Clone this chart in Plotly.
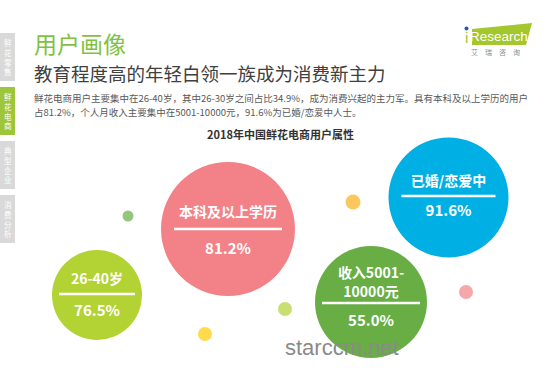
import plotly.graph_objects as go

# ---- data ----
categories = ["26-40岁", "本科及以上学历", "收入5001-<br>10000元", "已婚/恋爱中"]
values = [76.5, 81.2, 55.0, 91.6]
value_labels = ["76.5%", "81.2%", "55.0%", "91.6%"]

# ---- layout of bubbles (pixel coordinates on a 549x368 canvas) ----
bx = [97, 228, 371, 448.5]
by = [295, 229, 302, 197.5]
bd = [90, 134, 112, 120]
bcolors = ["#B3D234", "#F28287", "#68AE45", "#00B0E4"]
label_y = [280, 213, 284, 182]
line_y = [294, 229, 303, 196]
line_half = [38, 54, 49, 47]
value_y = [312, 250, 322, 212]

dot_x = [128, 353, 285, 205, 466]
dot_y = [216, 202, 309, 334, 292]
dot_d = [11, 15, 14, 14, 14]
dot_colors = ["#68AE45", "#FBB118", "#B3D234", "#FFCC00", "#F28287"]

sidebar_labels = ["鲜<br>花<br>零<br>售", "鲜<br>花<br>电<br>商", "典<br>型<br>企<br>业", "消<br>费<br>分<br>析"]
sidebar_top = [33, 87, 141, 195]
sidebar_colors = ["#D9D9D9", "#9DC63B", "#D9D9D9", "#D9D9D9"]

CJK = "Noto Sans CJK SC"

fig = go.Figure()

# small decorative dots
fig.add_trace(go.Scatter(
    x=dot_x, y=dot_y, mode="markers",
    marker=dict(size=dot_d, color=dot_colors, line=dict(width=0)),
    hoverinfo="skip", showlegend=False))

# big bubbles
fig.add_trace(go.Scatter(
    x=bx, y=by, mode="markers",
    marker=dict(size=bd, color=bcolors, line=dict(width=0), opacity=1),
    hoverinfo="skip", showlegend=False))

# labels in bubbles
fig.add_trace(go.Scatter(
    x=bx, y=label_y, mode="text", text=categories,
    textfont=dict(family=CJK, size=14, color="white", weight="bold"),
    textposition="middle center", hoverinfo="skip", showlegend=False))
fig.add_trace(go.Scatter(
    x=bx, y=value_y, mode="text", text=value_labels,
    textfont=dict(family=CJK, size=15, color="white", weight="bold"),
    textposition="middle center", hoverinfo="skip", showlegend=False))

shapes = []
for x, ly, h in zip(bx, line_y, line_half):
    shapes.append(dict(type="line", xref="x", yref="y", x0=x - h, x1=x + h, y0=ly, y1=ly,
                       line=dict(color="white", width=2.5)))

# sidebar boxes
for t, c in zip(sidebar_top, sidebar_colors):
    shapes.append(dict(type="rect", xref="x", yref="y", x0=0, x1=15, y0=t, y1=t + 48,
                       fillcolor=c, line=dict(width=0), layer="below"))

# logo polygon
shapes.append(dict(type="path", xref="x", yref="y",
                   path="M 472,29 L 532,23 L 526,45 L 472,45 Z",
                   fillcolor="#A3C72C", line=dict(width=0)))

annotations = []
for t, lab in zip(sidebar_top, sidebar_labels):
    annotations.append(dict(x=7.5, y=t + 24, xref="x", yref="y", text=lab, showarrow=False,
                            font=dict(family=CJK, size=7.5, color="white"), align="center",
                            xanchor="center", yanchor="middle"))

annotations += [
    dict(x=32, y=43, text="用户画像", showarrow=False, xanchor="left", yanchor="middle",
         font=dict(family=CJK, size=23, color="#7FC242")),
    dict(x=32, y=73, text="教育程度高的年轻白领一族成为消费新主力", showarrow=False,
         xanchor="left", yanchor="middle", font=dict(family=CJK, size=18.5, color="#404040")),
    dict(x=32, y=98, text="鲜花电商用户主要集中在26-40岁，其中26-30岁之间占比34.9%，成为消费兴起的主力军。具有本科及以上学历的用户",
         showarrow=False, xanchor="left", yanchor="middle",
         font=dict(family=CJK, size=9.5, color="#595959")),
    dict(x=32, y=112, text="占81.2%，个人月收入主要集中在5001-10000元，91.6%为已婚/恋爱中人士。",
         showarrow=False, xanchor="left", yanchor="middle",
         font=dict(family=CJK, size=9.5, color="#595959")),
    dict(x=280, y=134, text="2018年中国鲜花电商用户属性", showarrow=False,
         xanchor="center", yanchor="middle",
         font=dict(family=CJK, size=11, color="#333333", weight="bold")),
    # logo text
    dict(x=466, y=37, text="i", showarrow=False, xanchor="center", yanchor="middle",
         font=dict(family="Liberation Sans", size=15, color="#A3C72C")),
    dict(x=499, y=36, text="Research", showarrow=False, xanchor="center", yanchor="middle",
         font=dict(family="Liberation Sans", size=13.5, color="white")),
    dict(x=495, y=52, text="艾　瑞　咨　询", showarrow=False, xanchor="center", yanchor="middle",
         font=dict(family=CJK, size=7, color="#8C8C8C")),
    # watermark
    dict(x=342, y=347, text="starccm.net", showarrow=False, xanchor="center", yanchor="middle",
         font=dict(family="Liberation Sans", size=22, color="#8A8A8A")),
]

# blue dot of the "i"
fig.add_trace(go.Scatter(x=[466.5], y=[28.5], mode="markers",
                         marker=dict(size=4, color="#1F5DAA"), hoverinfo="skip", showlegend=False))

fig.update_layout(
    width=549, height=368,
    margin=dict(l=0, r=0, t=0, b=0),
    paper_bgcolor="white", plot_bgcolor="white",
    xaxis=dict(range=[0, 549], visible=False, fixedrange=True),
    yaxis=dict(range=[368, 0], visible=False, fixedrange=True),
    shapes=shapes, annotations=annotations, showlegend=False,
)

fig.write_html("out.html", config={"displayModeBar": False},
               post_script="document.body.style.margin='0px';document.body.style.overflow='hidden';")
